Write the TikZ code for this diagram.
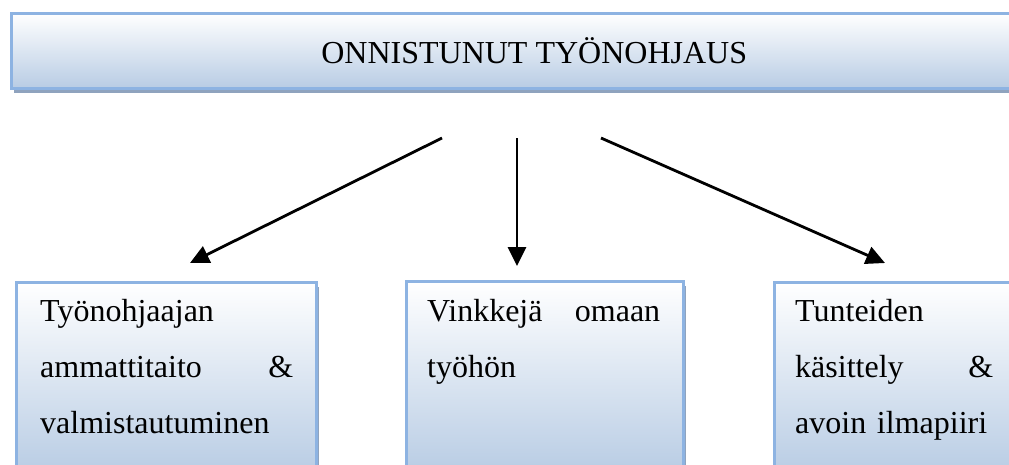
\documentclass[tikz,border=0pt]{standalone}
\usepackage{fontspec}
\setmainfont{Liberation Serif}
\usetikzlibrary{arrows.meta,shadows}
\definecolor{boxline}{RGB}{141,179,226}
\definecolor{boxfill}{RGB}{184,204,228}
\definecolor{boxshadow}{RGB}{143,163,190}
\tikzset{
	panel/.style={draw=boxline,line width=2.5pt,top color=white,bottom color=boxfill,
		drop shadow={shadow xshift=3pt,shadow yshift=-5pt,fill=boxshadow,opacity=1},
		anchor=north west,inner sep=0pt},
	boxtext/.style={anchor=north west,inner sep=0pt,align=left,font=\fontsize{32}{56}\selectfont},
	pointer/.style={line width=2.8pt,-{Triangle[length=19pt,width=18pt]}}
}
\begin{document}
\begin{tikzpicture}[x=1pt,y=-1pt]
	\useasboundingbox (0,0) rectangle (1009,464);
	\clip (0,0) rectangle (1009,464);
	\node[panel,minimum width=1046pt,minimum height=75pt,font=\fontsize{32}{38}\selectfont] (title) at (10,12) {ONNISTUNUT TYÖNOHJAUS};
	\node[panel,minimum width=300pt,minimum height=192pt] (b1) at (15,281) {};
	\node[panel,minimum width=277pt,minimum height=192pt] (b2) at (405,280) {};
	\node[panel,minimum width=280pt,minimum height=192pt] (b3) at (773,281) {};
	\node[boxtext,text width=253pt] (t1) at ([xshift=25pt,yshift=-18pt]b1.north west) {Työnohjaajan\\ammattitaito\hfill\&\\valmistautuminen};
	\node[boxtext,text width=233pt] (t2) at ([xshift=22pt,yshift=-19pt]b2.north west) {Vinkkejä\hfill omaan\\työhön};
	\node[boxtext,text width=198pt] (t3) at ([xshift=22pt,yshift=-18pt]b3.north west) {Tunteiden\\käsittely\hfill\&\\avoin ilmapiiri};
	\coordinate (l0) at (442,138);
	\coordinate (l1) at (190,263);
	\coordinate (m0) at (517,138);
	\coordinate (m1) at (517,266);
	\coordinate (r0) at (601,138);
	\coordinate (r1) at (885,263);
	\draw[pointer] (l0) -- (l1);
	\draw[pointer] (m0) -- (m1);
	\draw[pointer] (r0) -- (r1);
\end{tikzpicture}
\end{document}
